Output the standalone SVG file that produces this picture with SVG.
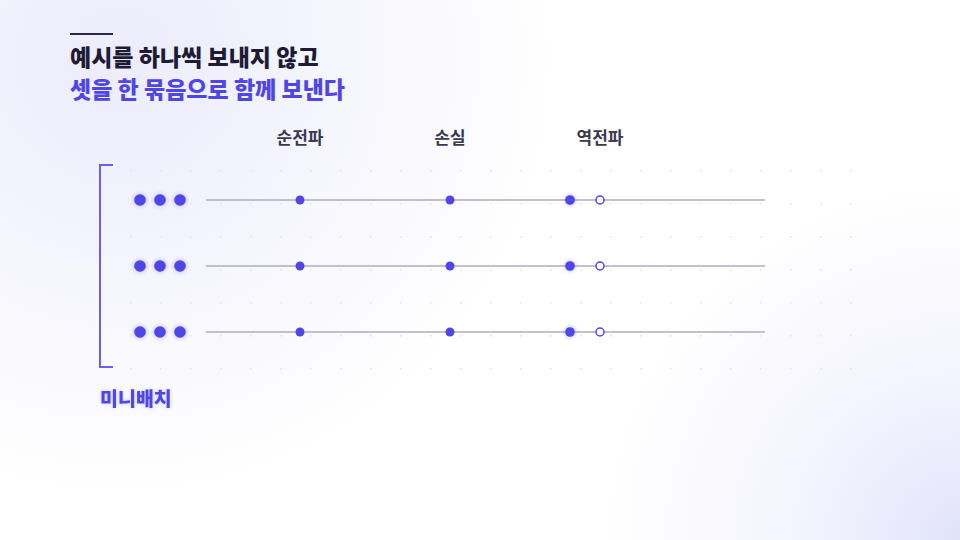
<svg xmlns="http://www.w3.org/2000/svg" width="960" height="540" viewBox="0 0 960 540">
<defs>
<radialGradient id="bgTL" cx="120" cy="60" r="440" gradientUnits="userSpaceOnUse">
<stop offset="0" stop-color="#ececfb"/>
<stop offset="1" stop-color="#ececfb" stop-opacity="0"/>
</radialGradient>
<radialGradient id="bgBR" cx="960" cy="540" r="360" gradientUnits="userSpaceOnUse">
<stop offset="0" stop-color="#e0e2fb"/>
<stop offset="0.5" stop-color="#eeeffc" stop-opacity="0.6"/>
<stop offset="1" stop-color="#eeeffc" stop-opacity="0"/>
</radialGradient>
<pattern id="grid" x="130" y="170" width="30" height="33" patternUnits="userSpaceOnUse">
<rect x="0" y="0" width="1.6" height="1.6" fill="#e4e4ec"/>
</pattern>
<filter id="glow" x="-100%" y="-100%" width="300%" height="300%">
<feGaussianBlur in="SourceGraphic" stdDeviation="2" result="b"/>
<feColorMatrix in="b" type="matrix" values="1 0 0 0 0 0 1 0 0 0 0 0 1 0 0 0 0 0 0.45 0" result="c"/>
<feMerge><feMergeNode in="c"/><feMergeNode in="SourceGraphic"/></feMerge>
</filter>
<filter id="tglow" x="-20%" y="-50%" width="140%" height="200%">
<feFlood flood-color="#8b82f5" flood-opacity="0.4"/>
<feComposite operator="in" in2="SourceAlpha"/>
<feGaussianBlur stdDeviation="2" result="s"/>
<feMerge><feMergeNode in="s"/><feMergeNode in="SourceGraphic"/></feMerge>
</filter>
<style>
.kr{font-family:"Noto Sans CJK KR","Noto Sans",sans-serif;font-weight:800}
.t1{font-size:23px;fill:#1d1b36}
.t2{font-size:23px;fill:#5046e5}
.col{font-size:17px;fill:#3b3950;text-anchor:middle;font-weight:700}
.lbl{font-size:19.5px;fill:#4f46e5}
.line{stroke:#aeacc2;stroke-width:1.6;fill:none}
.dot{fill:#4f46e5}
.big{fill:#4f46e5;filter:url(#glow)}
.hollow{fill:#ffffff;stroke:#4f46e5;stroke-width:1.5}
.bracket{stroke:#6a5df0;stroke-width:2;fill:none}
</style>
</defs>
<rect width="960" height="540" fill="#ffffff"/>
<rect width="960" height="540" fill="url(#bgTL)"/>
<rect width="960" height="540" fill="url(#bgBR)"/>
<rect x="129" y="169" width="724" height="202" fill="url(#grid)"/>

<g id="title">
<line x1="70" y1="34" x2="113" y2="34" stroke="#2a2850" stroke-width="2"/>
<text class="kr t1" x="70" y="66">예시를 하나씩 보내지 않고</text>
<text class="kr t2" x="70" y="98">셋을 한 묶음으로 함께 보낸다</text>
</g>

<g id="column-labels">
<text class="kr col" x="300" y="144">순전파</text>
<text class="kr col" x="450" y="144">손실</text>
<text class="kr col" x="600" y="144">역전파</text>
</g>

<g id="connectors">
<line class="line" x1="206" y1="200" x2="765" y2="200"/>
<line class="line" x1="206" y1="266" x2="765" y2="266"/>
<line class="line" x1="206" y1="332" x2="765" y2="332"/>
</g>

<g id="row1">
<circle class="big" cx="140" cy="200" r="5.8"/>
<circle class="big" cx="160" cy="200" r="5.8"/>
<circle class="big" cx="180" cy="200" r="5.8"/>
<circle class="dot" cx="300" cy="200" r="4.5"/>
<circle class="dot" cx="450" cy="200" r="4.5"/>
<circle class="big" cx="570" cy="200" r="4.8"/>
<circle class="hollow" cx="600" cy="200" r="4"/>
</g>
<g id="row2">
<circle class="big" cx="140" cy="266" r="5.8"/>
<circle class="big" cx="160" cy="266" r="5.8"/>
<circle class="big" cx="180" cy="266" r="5.8"/>
<circle class="dot" cx="300" cy="266" r="4.5"/>
<circle class="dot" cx="450" cy="266" r="4.5"/>
<circle class="big" cx="570" cy="266" r="4.8"/>
<circle class="hollow" cx="600" cy="266" r="4"/>
</g>
<g id="row3">
<circle class="big" cx="140" cy="332" r="5.8"/>
<circle class="big" cx="160" cy="332" r="5.8"/>
<circle class="big" cx="180" cy="332" r="5.8"/>
<circle class="dot" cx="300" cy="332" r="4.5"/>
<circle class="dot" cx="450" cy="332" r="4.5"/>
<circle class="big" cx="570" cy="332" r="4.8"/>
<circle class="hollow" cx="600" cy="332" r="4"/>
</g>

<g id="minibatch">
<path class="bracket" d="M113 165 H100 V367 H113"/>
<text class="kr lbl" x="100" y="406" filter="url(#tglow)">미니배치</text>
</g>
</svg>
